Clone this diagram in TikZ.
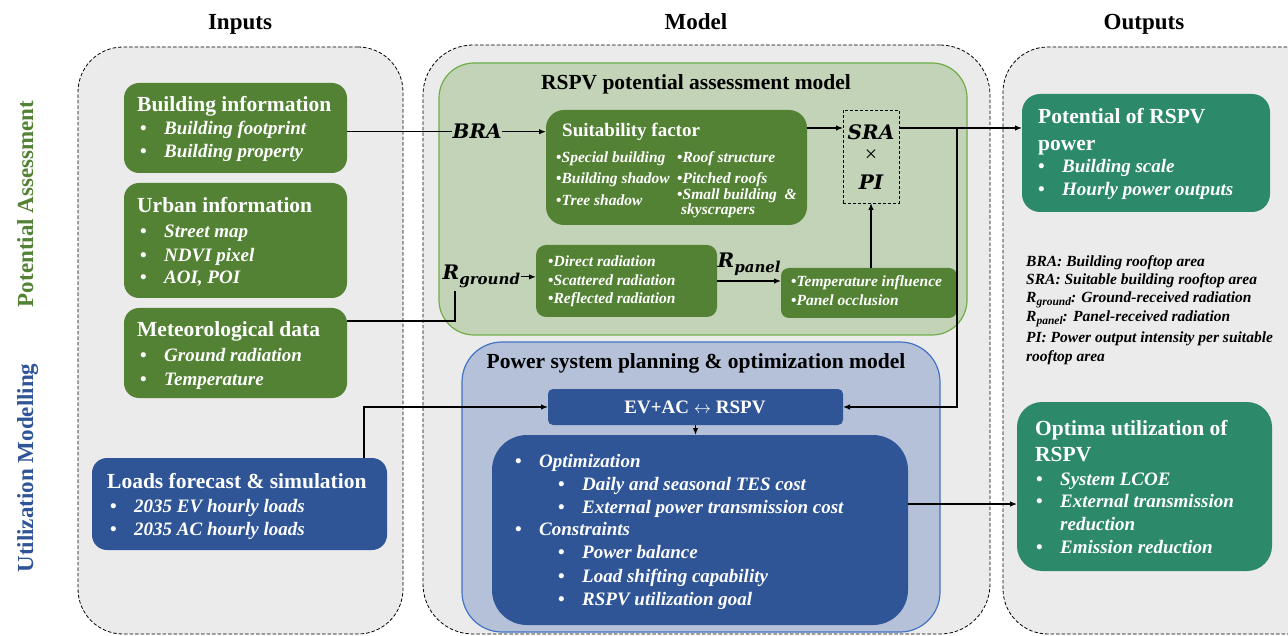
\documentclass[tikz,border=0pt]{standalone}
\usepackage{fontspec}
\setmainfont{Liberation Serif}
\newfontfamily\symfont{DejaVu Serif}
\usetikzlibrary{arrows.meta}

\definecolor{panelgray}{HTML}{EBEBEB}
\definecolor{ingreen}{HTML}{548235}
\definecolor{inblue}{HTML}{2F5597}
\definecolor{outteal}{HTML}{2C8A6B}
\definecolor{lightgreen}{HTML}{C2D3B7}
\definecolor{greenedge}{HTML}{70AD47}
\definecolor{lightblue}{HTML}{B4C1D9}
\definecolor{blueedge}{HTML}{4472C4}

% bullet followed by a fixed gap before the item text
\newcommand\listbul{\makebox[24pt][l]{\upshape\textbullet}}
% small inline bullet used in the compact lists
\newcommand\tinybul{{\upshape\textbullet}}

\begin{document}
\begin{tikzpicture}[x=1pt,y=-1pt,
  panel/.style={draw=black, dash pattern=on 3.5pt off 2pt, line width=0.8pt, fill=panelgray},
  box/.style={rectangle, anchor=north west, inner sep=0pt, outer sep=0pt},
  hd/.style={font=\bfseries\fontsize{23}{26}\selectfont, anchor=base, inner sep=0pt},
  side/.style={font=\bfseries\fontsize{23}{26}\selectfont, anchor=base, rotate=90, inner sep=0pt},
  ttl/.style={font=\bfseries\fontsize{21.5}{24}\selectfont, text=white, anchor=base west, inner sep=0pt},
  itm/.style={font=\bfseries\itshape\fontsize{19}{22}\selectfont, text=white, anchor=base west, inner sep=0pt},
  sm/.style={font=\bfseries\itshape\fontsize{15.5}{18}\selectfont, text=white, anchor=base west, inner sep=0pt},
  lg/.style={font=\bfseries\itshape\fontsize{15.5}{18}\selectfont, anchor=base west, inner sep=0pt},
  mth/.style={font=\symfont\bfseries\itshape\fontsize{20}{24}\selectfont, inner sep=0.5pt},
  mdl/.style={font=\bfseries\fontsize{21.5}{24}\selectfont, anchor=base, inner sep=0pt},
  conn/.style={line width=1.2pt},
  arr/.style={line width=1.2pt, -{Latex[length=7pt,width=5.5pt]}}
]
\useasboundingbox (0,0) rectangle (1288,636);

% ---------- column headings ----------
\node[hd] (hin) at (240,30) {Inputs};
\node[hd] (hmodel) at (696,30) {Model};
\node[hd] (hout) at (1144,30) {Outputs};

\node[side, text=ingreen] (spa) at (33,204) {Potential Assessment};
\node[side, text=inblue] (sum) at (33,468) {Utilization Modelling};

% ---------- dashed column panels ----------
\node[panel, box, rounded corners=45pt, minimum width=325pt, minimum height=587pt] (inpanel) at (78,47) {};
\node[panel, box, rounded corners=50pt, minimum width=567pt, minimum height=589pt] (mpanel) at (423,45) {};
\node[panel, box, rounded corners=45pt, minimum width=340pt, minimum height=587pt] (opanel) at (1003,47) {};

% ---------- inputs ----------
\node[box, fill=ingreen, rounded corners=15pt, minimum width=223pt, minimum height=90pt] (bi) at (124,83) {};
\node[ttl] (bi-t) at (137,112) {Building information};
\node[itm] (bi-a) at (140,135) {\listbul Building footprint};
\node[itm] (bi-b) at (140,158) {\listbul Building property};

\node[box, fill=ingreen, rounded corners=15pt, minimum width=223pt, minimum height=115pt] (ui) at (124,183) {};
\node[ttl] (ui-t) at (137,213) {Urban information};
\node[itm] (ui-a) at (140,238) {\listbul Street map};
\node[itm] (ui-b) at (140,262) {\listbul NDVI pixel};
\node[itm] (ui-c) at (140,284) {\listbul AOI, POI};

\node[box, fill=ingreen, rounded corners=15pt, minimum width=223pt, minimum height=90pt] (md) at (124,308) {};
\node[ttl] (md-t) at (137,337) {Meteorological data};
\node[itm] (md-a) at (140,362) {\listbul Ground radiation};
\node[itm] (md-b) at (140,385) {\listbul Temperature};

\node[box, fill=inblue, rounded corners=15pt, minimum width=295pt, minimum height=92pt] (lf) at (92,458) {};
\node[ttl] (lf-t) at (107,488) {Loads forecast \& simulation};
\node[itm] (lf-a) at (110,512) {\listbul 2035 EV hourly loads};
\node[itm] (lf-b) at (110,535) {\listbul 2035 AC hourly loads};

% ---------- RSPV potential assessment model ----------
\node[box, fill=lightgreen, draw=greenedge, line width=1.2pt, rounded corners=35pt, minimum width=528pt, minimum height=272pt] (rspv) at (439,63) {};
\node[mdl] (rspv-t) at (696,90) {RSPV potential assessment model};

\node[mth, anchor=base west] (bra) at (452,139) {BRA};

\node[box, fill=ingreen, rounded corners=18pt, minimum width=261pt, minimum height=115pt] (sf) at (546,110) {};
\node[ttl, font=\bfseries\fontsize{19}{22}\selectfont] (sf-t) at (562,137) {Suitability factor};
\node[sm] (sf-a) at (556,163) {\tinybul Special building};
\node[sm] (sf-b) at (556,184) {\tinybul Building shadow};
\node[sm] (sf-c) at (556,206) {\tinybul Tree shadow};
\node[sm] (sf-d) at (677,163) {\tinybul Roof structure};
\node[sm] (sf-e) at (677,184) {\tinybul Pitched roofs};
\node[sm] (sf-f) at (677,200) {\tinybul Small building \ \&};
\node[sm] (sf-g) at (681,215) {skyscrapers};

\node[box, draw=black, dash pattern=on 3pt off 2pt, line width=0.9pt, minimum width=56pt, minimum height=93pt] (srabox) at (843,110) {};
\node[mth, anchor=base] (sra) at (871,140) {SRA};
\node[font=\fontsize{22}{22}\selectfont, inner sep=0pt] (times) at (871,156) {×};
\node[mth, anchor=base] (pi) at (871,190) {PI};

\node[mth, anchor=base west] (rg) at (442,280) {R\raisebox{-5pt}{\fontsize{15}{15}\selectfont ground}};

\node[box, fill=ingreen, rounded corners=10pt, minimum width=181pt, minimum height=72pt] (rad) at (536,245) {};
\node[sm] (rad-a) at (548,267) {\tinybul Direct radiation};
\node[sm] (rad-b) at (548,286) {\tinybul Scattered radiation};
\node[sm] (rad-c) at (548,304) {\tinybul Reflected radiation};

\node[mth, anchor=base west] (rp) at (717,268) {R\raisebox{-5pt}{\fontsize{15}{15}\selectfont panel}};

\node[box, fill=ingreen, rounded corners=8pt, minimum width=176pt, minimum height=50pt] (tp) at (781,268) {};
\node[sm] (tp-a) at (791,287) {\tinybul Temperature influence};
\node[sm] (tp-b) at (791,306) {\tinybul Panel occlusion};

% ---------- power system planning & optimization model ----------
\node[box, fill=lightblue, draw=blueedge, line width=1.2pt, rounded corners=40pt, minimum width=478pt, minimum height=290pt] (ps) at (462,342) {};
\node[mdl] (ps-t) at (696,368) {Power system planning \& optimization model};

\node[box, fill=inblue, rounded corners=5pt, minimum width=295pt, minimum height=36pt] (ev) at (548,389) {};
\node[font=\bfseries\fontsize{19}{22}\selectfont, text=white, anchor=base, inner sep=0pt] (ev-t) at (695,413) {EV+AC $\leftrightarrow$ RSPV};

\node[box, fill=inblue, rounded corners=35pt, minimum width=416pt, minimum height=190pt] (opt) at (492,435) {};
\node[itm] (opt-a) at (515,467) {\listbul Optimization};
\node[itm] (opt-b) at (558,490) {\listbul Daily and seasonal TES cost};
\node[itm] (opt-c) at (558,513) {\listbul External power transmission cost};
\node[itm] (opt-d) at (515,535) {\listbul Constraints};
\node[itm] (opt-e) at (558,558) {\listbul Power balance};
\node[itm] (opt-f) at (558,582) {\listbul Load shifting capability};
\node[itm] (opt-g) at (558,605) {\listbul RSPV utilization goal};

% ---------- outputs ----------
\node[box, fill=outteal, rounded corners=18pt, minimum width=248pt, minimum height=118pt] (pot) at (1022,94) {};
\node[ttl] (pot-t) at (1038,124) {Potential of RSPV};
\node[ttl] (pot-u) at (1038,151) {power};
\node[itm] (pot-a) at (1038,173) {\listbul Building scale};
\node[itm] (pot-b) at (1038,196) {\listbul Hourly power outputs};

\node[lg] (lg-a) at (1026,267) {BRA: Building rooftop area};
\node[lg] (lg-b) at (1026,285) {SRA: Suitable building rooftop area};
\node[lg] (lg-c) at (1026,303) {R\raisebox{-3pt}{\fontsize{11.5}{12}\selectfont ground}: Ground-received radiation};
\node[lg] (lg-d) at (1026,322) {R\raisebox{-3pt}{\fontsize{11.5}{12}\selectfont panel}: Panel-received radiation};
\node[lg] (lg-e) at (1026,342) {PI: Power output intensity per suitable};
\node[lg] (lg-f) at (1026,362) {rooftop area};

\node[box, fill=outteal, rounded corners=25pt, minimum width=255pt, minimum height=169pt] (ou) at (1017,402) {};
\node[ttl] (ou-t) at (1035,435) {Optima utilization of};
\node[ttl] (ou-u) at (1035,461) {RSPV};
\node[itm] (ou-a) at (1036,485) {\listbul System LCOE};
\node[itm] (ou-b) at (1036,507) {\listbul External transmission};
\node[itm] (ou-c) at (1060,530) {reduction};
\node[itm] (ou-d) at (1036,553) {\listbul Emission reduction};

% ---------- connectors ----------
\coordinate (jsra) at (957,128);
\coordinate (jmet) at (455,291);

\draw[conn] (bi.east |- bra.west) -- (bra.west);
\draw[arr] (bra.east) -- (bra.east -| sf.west);
\draw[arr] (sf.east |- jsra) -- (srabox.west |- jsra);
\draw[arr] (srabox.east |- jsra) -- (pot.west |- jsra);
\draw[arr] (jsra) |- (ev.east);

\draw[conn] ([yshift=32pt]md.east) -| (jmet);
\draw[arr] (rg.east) -- (rg.east -| rad.west);
\draw[arr] (rad.east) -- (rad.east -| tp.west);
\draw[arr] (tp.north -| srabox.south) -- (srabox.south);

\draw[arr] ([xshift=-23pt]lf.north east) |- (ev.west);
\draw[arr] (ev.south) -- (ev.south |- opt.north);
\draw[arr] ([yshift=26pt]opt.east) -- ([yshift=26pt]opt.east -| ou.west);
\end{tikzpicture}
\end{document}
